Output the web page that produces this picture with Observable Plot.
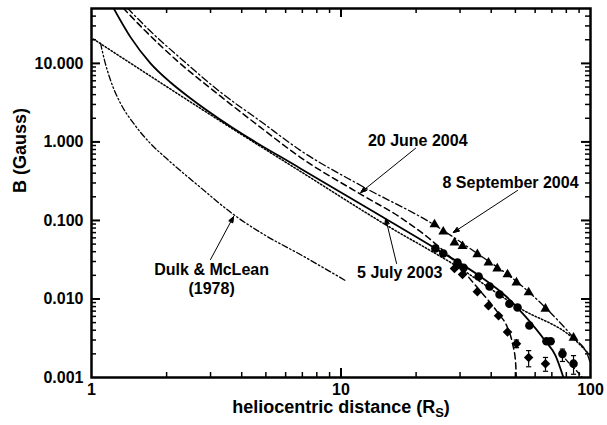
<!DOCTYPE html>
<html>
<head>
<meta charset="utf-8">
<script src="https://cdn.jsdelivr.net/npm/d3@7"></script>
<script src="https://cdn.jsdelivr.net/npm/@observablehq/plot@0.6"></script>
<style>
  body { margin: 0; background: #fff; }
  #chart svg { display: block; }
</style>
</head>
<body>
<div id="chart"></div>
<script>
// Coronal magnetic field strength B (Gauss) versus heliocentric distance (solar radii).
// Each curve is a list of [distance, B] pairs.

// Model profiles
const july2003Curve = [[1.225, 50.6], [1.433, 21.6], [1.72, 10.1], [2.07, 5.75], [2.49, 3.6], [3.6, 1.58],
  [6.87, 0.46], [14.8, 0.109], [23.9, 0.044], [36.2, 0.0193], [45.6, 0.011], [54.9, 0.00597],
  [66.0, 0.0029], [72.4, 0.0019], [77.9, 0.001]];
const june2004Curve = [[1.34, 50.6], [1.646, 25.8], [2.21, 10.7], [3.29, 3.82], [4.76, 1.53], [6.87, 0.637],
  [12.2, 0.209], [17.3, 0.109], [22.8, 0.0573], [28.8, 0.0291], [35.2, 0.01396], [42.8, 0.0065],
  [46.5, 0.00431], [48.7, 0.0027], [50.1, 0.00155], [50.4, 0.001]];
const sept2004Curve = [[1.394, 50.6], [1.72, 25.8], [2.32, 11.0], [3.29, 4.3], [4.76, 1.83], [6.87, 0.781],
  [12.2, 0.271], [23.5, 0.089], [35.2, 0.0379], [50.5, 0.0167], [66.0, 0.00776], [85.5, 0.00322],
  [97.3, 0.00195], [100, 0.00149]];
const july2003Tail = [[75.8, 0.00207], [81.6, 0.00155], [87.9, 0.00122], [92.9, 0.001]];
const powerLaw = [[1.018, 20.4], [3.6, 1.53], [6.87, 0.422], [14.8, 0.0916], [30.1, 0.0244], [52.4, 0.00755],
  [85.5, 0.00313], [100, 0.0019]];
const dulkMcLean = [[1.087, 18.1], [1.127, 11.0], [1.192, 6.1], [1.307, 3.1], [1.473, 1.73], [1.72, 0.96],
  [2.016, 0.60], [2.73, 0.264], [3.71, 0.119], [4.98, 0.0644], [6.87, 0.0368], [10.4, 0.0172]];

// Measurements
const sept2004R = [23.7, 25.7, 28.5, 30.7, 35.2, 39.0, 42.3, 46.5, 50.5, 56.5, 66.0, 85.5];
const sept2004B = [0.089, 0.072, 0.052, 0.047, 0.037, 0.029, 0.0244, 0.0205, 0.0162, 0.0121, 0.0075, 0.0032];
const july2003R = [23.9, 25.7, 29.3, 31.0, 35.6, 39.4, 43.2, 47.3, 51.0, 56.9, 66.6, 69.2, 77.2, 85.5];
const july2003B = [0.044, 0.038, 0.029, 0.025, 0.0193, 0.0144, 0.0114, 0.0087, 0.0078, 0.0046, 0.0029, 0.0029, 0.0020, 0.0015];
const june2004R = [28.5, 30.7, 35.2, 39.0, 42.8, 46.5, 50.5, 56.5, 66.0];
const june2004B = [0.0244, 0.0205, 0.0124, 0.0082, 0.0061, 0.0038, 0.0027, 0.0018, 0.0015];

// Error bars
const errR  = [50.5, 56.5, 66.0, 77.2, 85.5];
const errLo = [0.0024, 0.00137, 0.0012, 0.0016, 0.0011];
const errHi = [0.0030, 0.0022, 0.0018, 0.0023, 0.0019];

// Axis ticks
const xTickLabels = [1, 10, 100];
const yTickLabels = [0.001, 0.01, 0.1, 1, 10];
const xMajorTicks = [10];
const xMinorTicks = [2, 3, 4, 5, 6, 7, 8, 9, 20, 30, 40, 50, 60, 70, 80, 90];
const yMajorTicks = [0.01, 0.1, 1, 10];
const yMinorTicks = [0.002, 0.003, 0.004, 0.005, 0.006, 0.007, 0.008, 0.009,
  0.02, 0.03, 0.04, 0.05, 0.06, 0.07, 0.08, 0.09,
  0.2, 0.3, 0.4, 0.5, 0.6, 0.7, 0.8, 0.9,
  2, 3, 4, 5, 6, 7, 8, 9, 20, 30, 40];

// Annotations
const labelText = ["20 June 2004", "8 September 2004", "5 July 2003", "Dulk & McLean\n(1978)"];
const labelR = [20.3, 47.8, 17.2, 3.03];
const labelB = [0.879, 0.256, 0.01875, 0.01172];
const arrowFromR = [19.9, 51.0, 16.7, 3.0];
const arrowFromB = [0.83, 0.241, 0.0283, 0.0318];
const arrowToR = [12.0, 28.2, 15.1, 3.71];
const arrowToB = [0.227, 0.0703, 0.106, 0.112];

const xLabelMain = "heliocentric distance (R";
const xLabelSub = "S";
const yLabel = "B (Gauss)";

const zip = (a, b) => a.map((v, i) => [v, b[i]]);
const labels = labelText.map((t, i) => ({text: t, r: labelR[i], B: labelB[i]}));
const arrows = arrowFromR.map((v, i) => ({r1: v, B1: arrowFromB[i], r2: arrowToR[i], B2: arrowToB[i]}));
const errs = errR.map((r, i) => ({r, lo: errLo[i], hi: errHi[i]}));

const width = 607, height = 425;
const margin = {top: 8, right: 17, bottom: 48, left: 91};
const innerW = width - margin.left - margin.right;
const innerH = height - margin.top - margin.bottom;
const majorLen = 9, minorLen = 5;

const X = d => d[0], Y = d => d[1];
const lineStyle = {x: X, y: Y, stroke: "black", curve: "monotone-x", clip: true};

// short horizontal bar for error-bar caps
const capSymbol = {
  draw(context, size) {
    const w = Math.sqrt(size / Math.PI);
    context.moveTo(-w, 0);
    context.lineTo(w, 0);
  }
};

const chart = Plot.plot({
  width, height,
  marginTop: margin.top, marginRight: margin.right, marginBottom: margin.bottom, marginLeft: margin.left,
  style: {fontFamily: "'Liberation Sans', Arial, Helvetica, sans-serif", fontSize: "16px", fontWeight: "bold", background: "white", color: "black"},
  x: {type: "log", domain: [1, 100], label: null},
  y: {type: "log", domain: [0.001, 50], label: null},
  marks: [
    // tick marks drawn inward on all four sides
    Plot.ruleX(xMinorTicks, {x: d => d, insetTop: innerH - minorLen, strokeWidth: 1.5}),
    Plot.ruleX(xMinorTicks, {x: d => d, insetBottom: innerH - minorLen, strokeWidth: 1.5}),
    Plot.ruleX(xMajorTicks, {x: d => d, insetTop: innerH - majorLen, strokeWidth: 2}),
    Plot.ruleX(xMajorTicks, {x: d => d, insetBottom: innerH - majorLen, strokeWidth: 2}),
    Plot.ruleY(yMinorTicks, {y: d => d, insetRight: innerW - minorLen, strokeWidth: 1.5}),
    Plot.ruleY(yMinorTicks, {y: d => d, insetLeft: innerW - minorLen, strokeWidth: 1.5}),
    Plot.ruleY(yMajorTicks, {y: d => d, insetRight: innerW - majorLen, strokeWidth: 2}),
    Plot.ruleY(yMajorTicks, {y: d => d, insetLeft: innerW - majorLen, strokeWidth: 2}),

    // curves
    Plot.line(dulkMcLean, {...lineStyle, strokeWidth: 1.3, strokeDasharray: "6,2.5,1.5,2.5,1.5,2.5"}),
    Plot.line(powerLaw, {...lineStyle, strokeWidth: 1.5, strokeDasharray: "1.5,2"}),
    Plot.line(sept2004Curve, {...lineStyle, strokeWidth: 1.3, strokeDasharray: "7,3,1.5,3"}),
    Plot.line(june2004Curve, {...lineStyle, strokeWidth: 1.5, strokeDasharray: "6,4"}),
    Plot.line(july2003Tail, {...lineStyle, strokeWidth: 1.3, strokeDasharray: "5,3"}),
    Plot.line(july2003Curve, {...lineStyle, strokeWidth: 1.8}),

    // error bars
    Plot.ruleX(errs, {x: "r", y1: "lo", y2: "hi", strokeWidth: 1.2}),
    Plot.dot(errs, {x: "r", y: "lo", symbol: capSymbol, r: 2.6, stroke: "black", fill: "none", strokeWidth: 1.2}),
    Plot.dot(errs, {x: "r", y: "hi", symbol: capSymbol, r: 2.6, stroke: "black", fill: "none", strokeWidth: 1.2}),

    // measurements
    Plot.dot(zip(sept2004R, sept2004B), {x: X, y: Y, symbol: "triangle", r: 3.7, fill: "black", stroke: "none"}),
    Plot.dot(zip(july2003R, july2003B), {x: X, y: Y, symbol: "circle", r: 4.3, fill: "black", stroke: "none"}),
    Plot.dot(zip(june2004R, june2004B), {x: X, y: Y, symbol: "diamond2", r: 4.3, fill: "black", stroke: "none"}),

    // annotations
    Plot.arrow(arrows, {x1: "r1", y1: "B1", x2: "r2", y2: "B2", stroke: "black", strokeWidth: 1,
      headLength: 9, headAngle: 40}),
    Plot.text(labels, {x: "r", y: "B", text: "text", textAnchor: "middle", lineAnchor: "bottom", lineHeight: 1.15, fontSize: 16}),

    // axes
    Plot.frame({stroke: "black", strokeWidth: 2.5}),
    Plot.axisX(xTickLabels, {tickSize: 0, tickPadding: 6, tickFormat: d => String(d), fontSize: 16, label: null}),
    Plot.axisY(yTickLabels, {tickSize: 0, tickPadding: 8, tickFormat: d3.format(".3f"), fontSize: 16, label: null}),
    Plot.text([xLabelMain], {text: d => d, frameAnchor: "bottom", dy: 35, lineAnchor: "bottom", fontSize: 18}),
    Plot.text([yLabel], {text: d => d, frameAnchor: "left", rotate: -90, dx: -71, fontSize: 18})
  ]
});

// close and fill the arrowheads of the callouts
for (const p of chart.querySelectorAll('g[aria-label="arrow"] path')) {
  const d = p.getAttribute("d") || "";
  const parts = d.split(/(?=M)/).filter(s => s.length);
  if (parts.length > 1) {
    const head = document.createElementNS("http://www.w3.org/2000/svg", "path");
    head.setAttribute("d", parts[parts.length - 1] + "Z");
    head.setAttribute("fill", "black");
    head.setAttribute("stroke", "black");
    head.setAttribute("stroke-width", "1");
    head.setAttribute("stroke-linejoin", "miter");
    p.parentNode.appendChild(head);
  }
}

// add the subscript to the x-axis label
for (const t of chart.querySelectorAll("text")) {
  if (t.textContent === xLabelMain) {
    const sub = document.createElementNS("http://www.w3.org/2000/svg", "tspan");
    sub.setAttribute("font-size", "13");
    sub.setAttribute("dy", "4");
    sub.textContent = xLabelSub;
    const close = document.createElementNS("http://www.w3.org/2000/svg", "tspan");
    close.setAttribute("dy", "-4");
    close.textContent = ")";
    const target = t.querySelector("tspan") || t;
    target.appendChild(sub);
    target.appendChild(close);
  }
}

document.getElementById("chart").appendChild(chart);
</script>
</body>
</html>
